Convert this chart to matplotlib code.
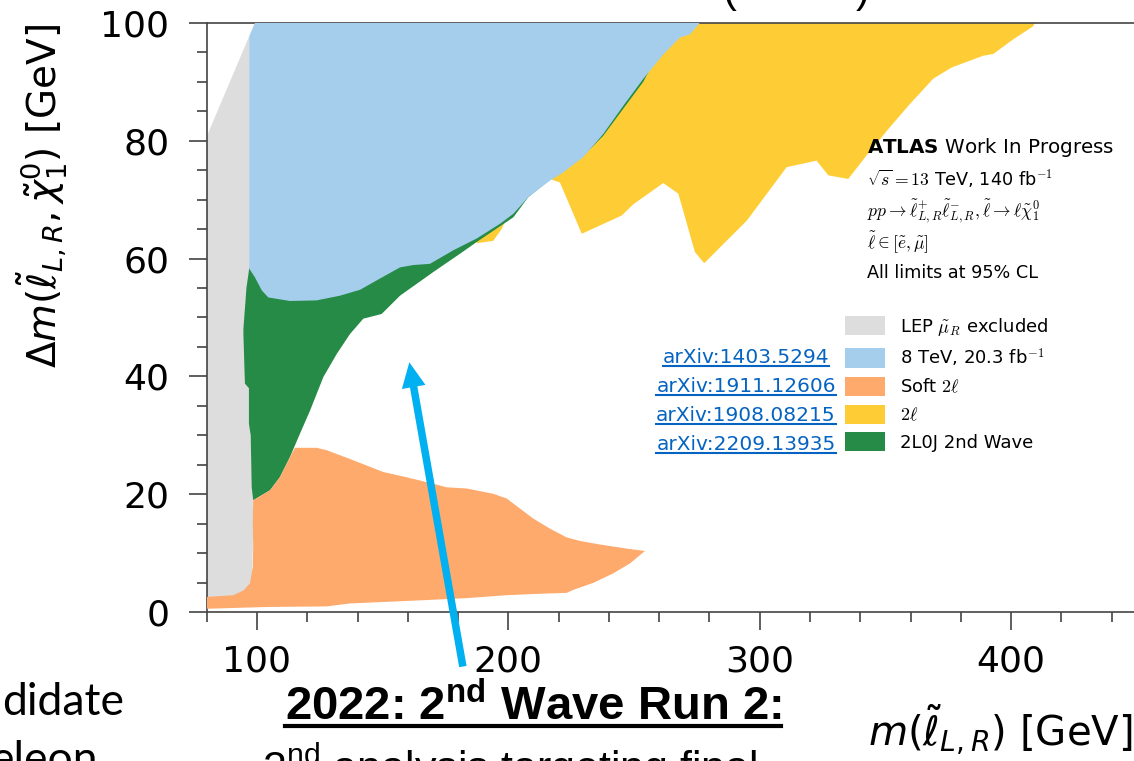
import matplotlib
matplotlib.use("Agg")
import matplotlib.pyplot as plt
from matplotlib.lines import Line2D
from matplotlib.patches import FancyArrowPatch
from matplotlib.ticker import MultipleLocator

# exclusion contours: x = m(slepton) [GeV], y = delta m [GeV]
lep_x = [80, 96.9, 96.9, 95.2, 95.2, 96.8, 97.5, 98.4, 98.4, 97.8, 96, 90.5, 80]
lep_y = [80.7, 97.7, 58, 52, 39, 38, 30, 20, 11, 5, 3.2, 2.4, 2.2]

tev8_x = [99.2, 96.9, 96.9, 96.9, 99.2, 101.9, 104.5, 113.1, 123.7, 133, 141, 148.9, 156.9,
          162.2, 168.8, 178.1, 187.4, 196.7, 202, 207.9, 216.5, 221.8, 229.8, 237.7, 245.7,
          253.7, 261.6, 268.3, 272.2, 276.2]
tev8_y = [100, 97.7, 80, 58.3, 56.8, 54.6, 53.4, 52.8, 52.9, 53.7, 54.7, 56.6, 58.5,
          58.9, 59.1, 61.4, 63.4, 65.9, 67.6, 70.4, 73.2, 74.6, 77.2, 81.1, 85.9,
          90.5, 94.6, 97.5, 98, 100]

soft2l_x = [98.5, 105.2, 109.1, 113.1, 115.1, 123.7, 127.7, 137, 150.2, 159.5, 170.1, 175.5,
            183.4, 194, 199.3, 204.6, 209.9, 216.5, 223.2, 228.5, 236.4, 247.1, 254.3,
            248.4, 241.7, 233.8, 225.8, 223.2, 209.9, 199.3, 183.4, 163.5, 137, 127.7, 103.9, 80,
            80, 90.6, 94.6, 97.2, 98.3, 98.5, 98.3]
soft2l_y = [19, 20.7, 22.9, 26.3, 27.9, 27.9, 27.5, 26, 23.8, 22.9, 21.8, 21.2,
            21, 20.1, 19.3, 17.6, 15.9, 14.2, 12.7, 12.1, 11.5, 10.8, 10.4,
            8.3, 6.6, 5, 3.8, 3.3, 3.1, 2.9, 2.4, 2, 1.5, 1, 0.9, 0.6,
            2.6, 2.9, 3.7, 4.9, 7.7, 11.1, 15.6]

twol_x = [187.4, 194, 197.3, 200, 208, 216.5, 220.5, 229.2, 245.1, 249.7, 261.6, 267.6, 274.2,
          277.9, 284.2, 294.8, 310.7, 322.6, 327.3, 335.2, 342.5, 351.8, 359.7, 369, 376.3,
          388.9, 392.9, 400.9, 408.8, 409.5, 230, 190]
twol_y = [62.6, 63, 65, 67.5, 72, 73.5, 72.9, 64.2, 67.3, 69.2, 72.8, 71, 61.1,
          59.2, 61.9, 66.4, 75.5, 76.6, 74.1, 73.5, 77.5, 82.3, 86.2, 90.5, 92.4,
          94.4, 94.7, 97.2, 99.4, 100, 100, 70]

wave2_x = [96.9, 95.8, 94.6, 94.6, 95.2, 96.8, 96.8, 97.5, 97.9, 98.5, 105.2, 109.1, 113.1,
           117.1, 121.1, 126.4, 131.7, 137, 142.3, 149.6, 156.9, 170.1, 180.7, 187.4, 194, 202,
           207.9, 216.5, 229.8, 237.7, 245.7, 253.7, 258, 240, 200, 150, 120, 100]
wave2_y = [58.3, 55, 48.1, 47.2, 38.8, 38, 32, 30, 21.2, 19, 20.7, 22.9, 26.3,
           30.3, 34.2, 39.9, 43.8, 47.2, 49.8, 50.6, 53.7, 57.7, 60.8, 62.8, 64.7, 67,
           70.4, 73.4, 77.4, 80.8, 85.4, 90.0, 93.5, 90, 75, 62, 58, 60]

labels = [r"LEP $\tilde{\mu}_R$ excluded", r"8 TeV, 20.3 fb$^{-1}$", r"Soft $2\ell$", r"$2\ell$",
          "2L0J 2nd Wave"]
colors = ["#dddddd", "#a4ceeb", "#feaa6d", "#fecd35", "#268b46"]
refs = ["arXiv:1403.5294", "arXiv:1911.12606", "arXiv:1908.08215", "arXiv:2209.13935"]

W, H = 1134, 761


def fx(px):
    return px / W


def fy(py):
    return 1 - py / H


plt.rcParams["mathtext.fontset"] = "dejavusans"
plt.rcParams["mathtext.rm"] = "Liberation Sans"
plt.rcParams["mathtext.bf"] = "Liberation Sans:bold"
plt.rcParams["mathtext.it"] = "Liberation Sans:italic"

fig = plt.figure(figsize=(W / 100, H / 100), dpi=100)
ax = fig.add_axes([fx(206.7), 1 - 612.3 / H, 955.3 / W, 589.6 / H])

p_lep = ax.fill(lep_x, lep_y, color=colors[0], lw=0, zorder=1)[0]
p_2l = ax.fill(twol_x, twol_y, color=colors[3], lw=0, zorder=2)[0]
p_wave = ax.fill(wave2_x, wave2_y, color=colors[4], lw=0, zorder=3)[0]
p_8 = ax.fill(tev8_x, tev8_y, color=colors[1], lw=0, zorder=4)[0]
p_soft = ax.fill(soft2l_x, soft2l_y, color=colors[2], lw=0, zorder=5)[0]

ax.set_xlim(80, 460)
ax.set_ylim(0, 100)
ax.xaxis.set_major_locator(MultipleLocator(100))
ax.xaxis.set_minor_locator(MultipleLocator(20))
ax.yaxis.set_major_locator(MultipleLocator(20))
ax.yaxis.set_minor_locator(MultipleLocator(5))
ax.tick_params(which="both", direction="out", color="#333333", width=1.1, labelsize=26)
ax.tick_params(which="major", length=13)
ax.tick_params(axis="x", which="major", pad=10)
ax.tick_params(axis="y", which="major", pad=14)
ax.tick_params(which="minor", length=7)
for s in ax.spines.values():
    s.set_color("#444444")
    s.set_linewidth(1.2)
ax.spines["right"].set_visible(False)

ax.set_ylabel(r"$\Delta m(\tilde{\ell}_{L,R},\tilde{\chi}^{0}_{1})$ [GeV]", fontsize=28, loc="top")
ax.yaxis.set_label_coords(-0.143, 0.997)
ax.set_xlabel(r"$m(\tilde{\ell}_{L,R})$ [GeV]", fontsize=29, loc="right", va="baseline")
ax.xaxis.set_label_coords((1133 - 206.7) / 955.3, (612.3 - 745) / 589.6)

arrow = FancyArrowPatch((181.9, -9.2), (160.6, 42.4),
                        arrowstyle="simple,head_length=0.9,head_width=0.86,tail_width=0.27",
                        mutation_scale=20, color="#00b0f0", lw=0, shrinkA=0, shrinkB=0,
                        clip_on=False, zorder=10)
ax.add_patch(arrow)

# ATLAS label block
fig.text(fx(867), fy(153), r"$\mathbf{ATLAS}$ Work In Progress", fontsize=14.3, va="baseline")
info = [r"$\sqrt{s} = 13$ TeV, 140 fb$^{-1}$",
        r"$pp \rightarrow \tilde{\ell}^{+}_{L,R}\tilde{\ell}^{-}_{L,R}, \tilde{\ell} \rightarrow \ell\tilde{\chi}^{0}_{1}$",
        r"$\tilde{\ell} \in [\tilde{e}, \tilde{\mu}]$",
        "All limits at 95% CL"]
for txt, base in zip(info, [186, 217, 248, 278]):
    fig.text(fx(867), fy(base), txt, fontsize=12.7, va="baseline", math_fontfamily="cm")

leg = fig.legend([p_lep, p_8, p_soft, p_2l, p_wave], labels, loc="upper left",
                 bbox_to_anchor=(fx(845), fy(316)), frameon=False, fontsize=13,
                 handlelength=2.2, handleheight=1.25, handletextpad=0.85,
                 labelspacing=0.45, borderpad=0, borderaxespad=0)
for t in leg.get_texts():
    t.set_math_fontfamily("cm")

ref_texts = []
for ref, base in zip(refs, [363, 392, 421, 450]):
    t = fig.text(fx(746), fy(base), ref, fontsize=14.5, color="#0563c1", ha="center",
                 va="baseline")
    ref_texts.append((t, 3, 1.5))

# slide text around the plot
title = fig.text(fx(533), fy(720), r"2022: 2$^{\mathbf{nd}}$ Wave Run 2:", fontsize=34,
                 fontweight="bold", family="Liberation Sans", ha="center", va="baseline",
                 math_fontfamily="custom")
ref_texts.append((title, 6, 3))
fig.text(fx(510), fy(782), r"2$^{\mathrm{nd}}$ analysis targeting final", fontsize=31,
         family="Liberation Sans", ha="center", va="baseline", math_fontfamily="custom")
fig.text(fx(2), fy(715), "didate", fontsize=32, family="Lato", va="baseline")
fig.text(fx(-10), fy(773), "eleon", fontsize=32, family="Lato", va="baseline")
fig.text(fx(722), fy(2), "(", fontsize=30, family="Liberation Sans", va="baseline")
fig.text(fx(856), fy(2), ")", fontsize=30, family="Liberation Sans", va="baseline")

fig.canvas.draw()
for t, off, lw in ref_texts:
    bb = t.get_window_extent()
    yb = fig.transFigure.transform(t.get_position())[1] - off
    fig.add_artist(Line2D([bb.x0 / W, bb.x1 / W], [yb / H, yb / H], color=t.get_color(),
                          lw=lw, transform=fig.transFigure))

fig.savefig("out.png", dpi=100)
